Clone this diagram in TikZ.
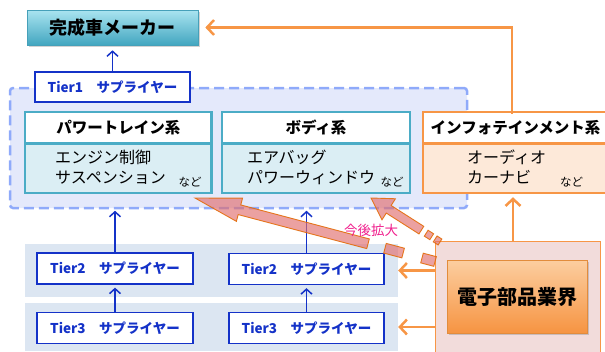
\documentclass[tikz,border=0pt]{standalone}
\usepackage{fontspec}
\setmainfont{Noto Sans CJK JP}
\usetikzlibrary{arrows.meta,calc,shadows}
\definecolor{ocol}{RGB}{247,150,70}
\definecolor{tealb}{RGB}{75,172,198}
\definecolor{bodyblue}{RGB}{219,238,244}
\definecolor{bluel}{RGB}{20,50,200}
\definecolor{grpfill}{RGB}{228,233,251}
\definecolor{grpdash}{RGB}{143,170,250}
\definecolor{stripc}{RGB}{220,230,242}
\definecolor{infobody}{RGB}{253,233,217}
\definecolor{pinkc}{RGB}{242,220,219}
\definecolor{magc}{RGB}{240,30,140}
\definecolor{arrfill}{RGB}{225,110,110}
\definecolor{arrline}{RGB}{228,108,10}
\newcommand{\fsz}[1]{\fontsize{#1}{#1}\selectfont}
\newcommand{\bigarrow}[5]{%
  \coordinate (ba-h) at ($(#2)!#4!(#1)$);
  \filldraw[bigarr] ($(#1)!#3!90:(#2)$) -- ($(ba-h)!#3!90:(#2)$) -- ($(ba-h)!#5!90:(#2)$) -- (#2) -- ($(ba-h)!#5!-90:(#2)$) -- ($(ba-h)!#3!-90:(#2)$) -- ($(#1)!#3!-90:(#2)$) -- cycle;
}
\newcommand{\bigseg}[3]{%
  \filldraw[bigarr] ($(#1)!#3!90:(#2)$) -- ($(#2)!#3!-90:(#1)$) -- ($(#2)!#3!90:(#1)$) -- ($(#1)!#3!-90:(#2)$) -- cycle;
}
\begin{document}
\begin{tikzpicture}[x=1pt,y=-1pt,
  strip/.style={fill=stripc, minimum width=373pt, inner sep=0pt},
  pinkbox/.style={fill=pinkc, draw=ocol, line width=1pt, minimum width=165pt, minimum height=124pt, inner sep=0pt},
  grp/.style={fill=grpfill, draw=grpdash, dash pattern=on 10pt off 5pt, line width=2.5pt, rounded corners=3pt, minimum width=457pt, minimum height=120pt, inner sep=0pt},
  tier/.style={fill=white, draw=bluel, line width=1.3pt, text=bluel, font=\bfseries\fsz{13.5}, minimum width=155pt, minimum height=30pt, inner sep=0pt},
  carbox/.style={top color={rgb,255:red,170;green,228;blue,240}, bottom color={rgb,255:red,66;green,166;blue,192}, draw={rgb,255:red,70;green,160;blue,185}, line width=0.6pt, drop shadow={opacity=0.35, shadow xshift=2pt, shadow yshift=-2pt}, font=\bfseries\fsz{18}, minimum width=171pt, minimum height=35pt, inner sep=0pt},
  elecbox/.style={top color={rgb,255:red,252;green,206;blue,160}, bottom color={rgb,255:red,246;green,148;blue,66}, draw={rgb,255:red,226;green,140;blue,60}, line width=0.6pt, drop shadow={opacity=0.35, shadow xshift=2pt, shadow yshift=-2pt}, font=\bfseries\fsz{20}, minimum width=140pt, minimum height=73pt, inner sep=0pt},
  hdr/.style={fill=white, line width=2.5pt, font=\bfseries\fsz{15.5}, minimum height=31.5pt, inner sep=0pt},
  bdy/.style={line width=2.5pt, minimum height=49.5pt, inner sep=0pt},
  btxt/.style={font=\fsz{16}, inner sep=0pt, anchor=west},
  ndo/.style={font=\fsz{11.5}, inner sep=0pt},
  barrow/.style={draw=bluel, line width=1.5pt, -{Straight Barb[length=5pt,width=11pt]}},
  oarrow/.style={draw=ocol, line width=2.5pt, -{Straight Barb[length=7pt,width=15pt]}},
  bigarr/.style={fill=arrfill, fill opacity=0.65, draw=arrline, line width=0.9pt, draw opacity=0.9},
]
\useasboundingbox (0,0) rectangle (605,351);
\clip (0,0) rectangle (605,351);
% background strips and regions
\node[strip, minimum height=53pt] (s1) at (211.5,270.5) {};
\node[strip, minimum height=48pt] (s2) at (211.5,327) {};
\node[pinkbox] (pink) at (517.5,303) {};
\node[grp] (grp) at (238.5,148) {};
% top boxes
\node[tier] (t1) at (112.5,87) {Tier1　サプライヤー};
\node[carbox] (car) at (112.5,27.5) {完成車メーカー};
% powertrain
\node[hdr, draw=tealb, minimum width=186.5pt] (pth) at (118.25,127.75) {パワートレイン系};
\node[bdy, draw=tealb, fill=bodyblue, minimum width=186.5pt] (ptb) at (118.25,168.25) {};
\node[btxt] (pt1) at (55,157.5) {エンジン制御};
\node[btxt] (pt2) at (55,177.5) {サスペンション};
\node[ndo] (pt3) at (190,182) {など};
% body
\node[hdr, draw=tealb, minimum width=188pt] (bdh) at (316,127.75) {ボディ系};
\node[bdy, draw=tealb, fill=bodyblue, minimum width=188pt] (bdb) at (316,168.25) {};
\node[btxt] (bd1) at (247,157.5) {エアバッグ};
\node[btxt] (bd2) at (247,177.5) {パワーウィンドウ};
\node[ndo] (bd3) at (392,182) {など};
% infotainment
\node[hdr, draw=ocol, minimum width=185pt] (ifh) at (515.5,127.75) {インフォテインメント系};
\node[bdy, draw=ocol, fill=infobody, minimum width=185pt] (ifb) at (515.5,168.25) {};
\node[btxt] (if1) at (467,157.5) {オーディオ};
\node[btxt] (if2) at (467,177.5) {カーナビ};
\node[ndo] (if3) at (571.5,182) {など};
% tier 2/3
\node[tier, minimum width=156pt, minimum height=31pt] (t2l) at (115,268.5) {Tier2　サプライヤー};
\node[tier, minimum width=156pt, minimum height=31pt] (t3l) at (115,328) {Tier3　サプライヤー};
\node[tier, minimum width=155pt, minimum height=31pt] (t2r) at (306.5,269) {Tier2　サプライヤー};
\node[tier, minimum width=155pt, minimum height=31pt] (t3r) at (306.5,328) {Tier3　サプライヤー};
% electronics
\node[elecbox] (elec) at (517,296.5) {電子部品業界};
% blue arrows
\draw[barrow, shorten >=5pt] (t1.north) -- (car.south);
\draw[barrow, shorten >=1.5pt] (t2l.north) -- (t2l.north |- grp.south);
\draw[barrow, shorten >=1.5pt] (t2r.north) -- (t2r.north |- grp.south);
\draw[barrow, shorten >=3pt] (t3l.north) -- (t2l.south);
\draw[barrow, shorten >=3pt] (t3r.north) -- (t2r.south);
% orange arrows
\coordinate (itop) at (512,113.5);
\coordinate (ptop) at (513,241);
\draw[oarrow, shorten >=7pt] (itop) |- (car.east);
\draw[oarrow, shorten >=3pt] (ptop) -- (ptop |- ifb.south);
\draw[oarrow] (pink.west |- s1.east) -- (s1.east);
\draw[oarrow] (pink.west |- s2.east) -- (s2.east);
% big future arrows
\coordinate (la-s) at (437,262);
\coordinate (la-t) at (195,198);
\coordinate (la-b) at ($(la-s)!0.285!(la-t)$);
\coordinate (la-d1a) at ($(la-s)!0.14!(la-t)$);
\coordinate (la-d1b) at ($(la-s)!0.215!(la-t)$);
\coordinate (la-d2a) at ($(la-s)!0.008!(la-t)$);
\coordinate (la-d2b) at ($(la-s)!0.062!(la-t)$);
\bigarrow{la-b}{la-t}{5pt}{46pt}{12pt}
\bigseg{la-d1a}{la-d1b}{5pt}
\bigseg{la-d2a}{la-d2b}{5pt}
\coordinate (ua-s) at (440,242);
\coordinate (ua-t) at (371,198);
\coordinate (ua-b) at ($(ua-s)!0.27!(ua-t)$);
\coordinate (ua-d1a) at ($(ua-s)!0.12!(ua-t)$);
\coordinate (ua-d1b) at ($(ua-s)!0.2!(ua-t)$);
\coordinate (ua-d2a) at ($(ua-s)!0.0!(ua-t)$);
\coordinate (ua-d2b) at ($(ua-s)!0.07!(ua-t)$);
\bigarrow{ua-b}{ua-t}{4.5pt}{21pt}{12.5pt}
\bigseg{ua-d1a}{ua-d1b}{3.5pt}
\bigseg{ua-d2a}{ua-d2b}{3.5pt}
\node[text=magc, font=\fsz{13.5}, inner sep=0pt] (kk) at (371,230) {今後拡大};
\end{tikzpicture}
\end{document}
